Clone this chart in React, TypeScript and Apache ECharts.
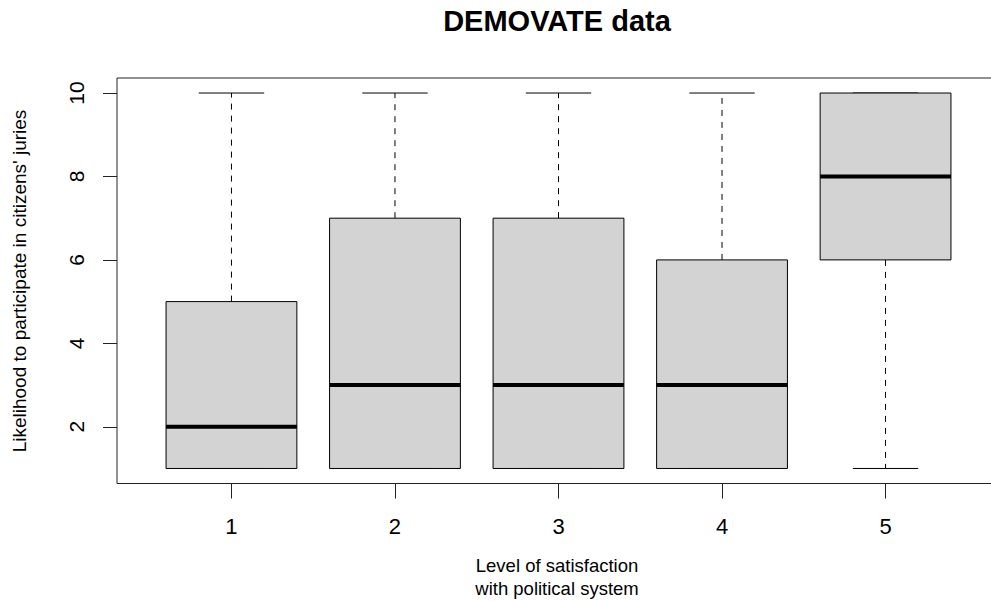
import React, { useEffect, useRef } from "react";
import * as echarts from "echarts";

// Box-plot summaries per satisfaction level
const levels = [1, 2, 3, 4, 5];
const lowerWhisker = [1, 1, 1, 1, 1];
const lowerQuartile = [1, 1, 1, 1, 6];
const medians = [2, 3, 3, 3, 8];
const upperQuartile = [5, 7, 7, 6, 10];
const upperWhisker = [10, 10, 10, 10, 10];
const yTicks = [2, 4, 6, 8, 10];

const FONT = '"Liberation Sans", Arial, Helvetica, sans-serif';

export default function App() {
  const ref = useRef<HTMLDivElement>(null);

  useEffect(() => {
    if (!ref.current) return;
    const chart = echarts.init(ref.current, undefined, { renderer: "svg" });

    const data = levels.map((x, i) => [
      x,
      lowerWhisker[i],
      lowerQuartile[i],
      medians[i],
      upperQuartile[i],
      upperWhisker[i],
    ]);

    const renderItem = (params: any, api: any) => {
      const x = api.value(0);
      const lo = api.value(1);
      const q1 = api.value(2);
      const med = api.value(3);
      const q3 = api.value(4);
      const hi = api.value(5);
      const w = api.size([0.8, 0])[0];
      const cx = api.coord([x, 0])[0];
      const yLo = api.coord([x, lo])[1];
      const yQ1 = api.coord([x, q1])[1];
      const yMed = api.coord([x, med])[1];
      const yQ3 = api.coord([x, q3])[1];
      const yHi = api.coord([x, hi])[1];
      const capHalf = w / 4;
      const dash = { stroke: "#000", lineWidth: 1, lineDash: [6, 6] };
      const solid = { stroke: "#000", lineWidth: 1 };
      const children: any[] = [];
      if (hi > q3) {
        children.push({ type: "line", shape: { x1: cx, y1: yQ3, x2: cx, y2: yHi }, style: dash });
      }
      if (lo < q1) {
        children.push({ type: "line", shape: { x1: cx, y1: yQ1, x2: cx, y2: yLo }, style: dash });
      }
      children.push({ type: "line", shape: { x1: cx - capHalf, y1: yHi, x2: cx + capHalf, y2: yHi }, style: solid });
      children.push({ type: "line", shape: { x1: cx - capHalf, y1: yLo, x2: cx + capHalf, y2: yLo }, style: solid });
      children.push({
        type: "rect",
        shape: { x: cx - w / 2, y: yQ3, width: w, height: yQ1 - yQ3 },
        style: { fill: "#D3D3D3", stroke: "#000", lineWidth: 1 },
      });
      children.push({
        type: "line",
        shape: { x1: cx - w / 2, y1: yMed, x2: cx + w / 2, y2: yMed },
        style: { stroke: "#000", lineWidth: 4 },
      });
      return { type: "group", children };
    };

    chart.setOption({
      animation: false,
      backgroundColor: "#fff",
      title: {
        text: "DEMOVATE data",
        left: 552,
        top: 1,
        textAlign: "center",
        textStyle: { fontFamily: FONT, fontSize: 29, fontWeight: "bold", color: "#000" },
      },
      grid: {
        left: 117,
        top: 78,
        width: 883,
        height: 405.5,
        outerBoundsMode: "none",
        containLabel: false,
        show: true,
        borderColor: "#222",
        borderWidth: 1,
        backgroundColor: "transparent",
      },
      xAxis: {
        type: "value",
        min: 0.3,
        max: 5.7,
        splitLine: { show: false },
        axisLine: { show: false },
        axisTick: { show: true, length: 15, customValues: levels, lineStyle: { color: "#222" } },
        axisLabel: {
          customValues: levels,
          margin: 32,
          fontFamily: FONT,
          fontSize: 22,
          color: "#000",
        },
      },
      yAxis: {
        type: "value",
        min: 0.64,
        max: 10.36,
        splitLine: { show: false },
        axisLine: { show: false },
        axisTick: { show: true, length: 14, customValues: yTicks, lineStyle: { color: "#222" } },
        axisLabel: {
          customValues: yTicks,
          rotate: 90,
          margin: 30,
          fontFamily: FONT,
          fontSize: 21,
          color: "#000",
        },
      },
      graphic: [
        {
          type: "text",
          x: 19,
          y: 281,
          rotation: Math.PI / 2,
          style: {
            text: "Likelihood to participate in citizens' juries",
            fontFamily: FONT,
            fontSize: 19,
            fill: "#000",
            textAlign: "center",
            textVerticalAlign: "middle",
          },
        },
        {
          type: "text",
          x: 557,
          y: 565.5,
          style: {
            text: "Level of satisfaction",
            fontFamily: FONT,
            fontSize: 18.5,
            fill: "#000",
            textAlign: "center",
            textVerticalAlign: "middle",
          },
        },
        {
          type: "text",
          x: 557,
          y: 588.5,
          style: {
            text: "with political system",
            fontFamily: FONT,
            fontSize: 18.5,
            fill: "#000",
            textAlign: "center",
            textVerticalAlign: "middle",
          },
        },
      ],
      series: [
        {
          type: "custom",
          renderItem,
          data,
          encode: { x: 0, y: [1, 2, 3, 4, 5] },
          clip: false,
        },
      ],
    });

    return () => chart.dispose();
  }, []);

  return (
    <div
      ref={ref}
      style={{ position: "absolute", left: 0, top: 0, width: 991, height: 601 }}
    />
  );
}
